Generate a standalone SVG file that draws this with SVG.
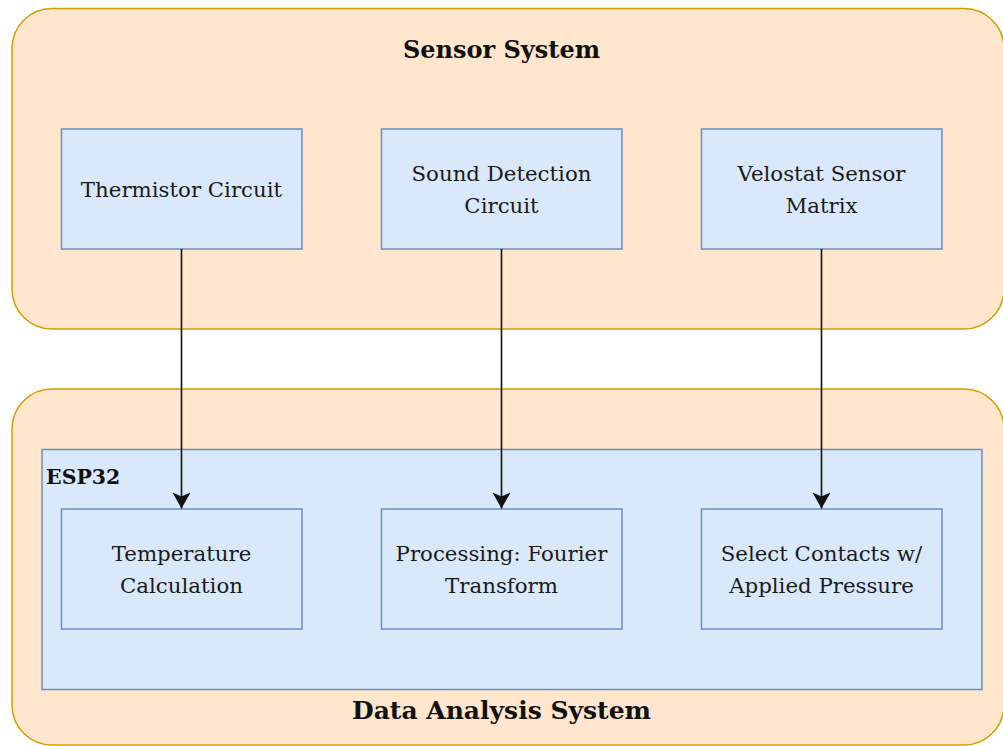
<svg xmlns="http://www.w3.org/2000/svg" width="1003" height="746" viewBox="0 0 1003 746">
<style>
.cont{fill:#ffe6cc;stroke:#d79b00;stroke-width:1.5}
.box{fill:#dae8fc;stroke:#6c8ebf;stroke-width:1.5}
.t{font-family:"DejaVu Serif","Liberation Serif",serif;font-size:21.3px;fill:#1a1a1a;text-anchor:middle}
.title{font-family:"DejaVu Serif","Liberation Serif",serif;font-weight:bold;fill:#111;text-anchor:middle}
.edge{stroke:#111;stroke-width:1.6;fill:none}
</style>
<defs>
<marker id="arr" markerUnits="userSpaceOnUse" markerWidth="20" markerHeight="20" refX="16" refY="9" orient="auto">
<path d="M0,0 L16,9 L0,18 L4,9 Z" fill="#111"/>
</marker>
</defs>
<g id="sensor-system">
<rect class="cont" x="12" y="8.5" width="992" height="320.5" rx="40" ry="40"/>
<text class="title" x="501.5" y="58" font-size="24">Sensor System</text>
</g>
<g id="data-analysis-system">
<rect class="cont" x="12" y="389" width="992" height="356" rx="40" ry="40"/>
<text class="title" x="501.5" y="719" font-size="25">Data Analysis System</text>
</g>
<g id="esp32">
<rect class="box" x="42" y="449.5" width="940" height="240"/>
<text class="title" x="46" y="484" font-size="20.5" style="text-anchor:start">ESP32</text>
</g>
<g id="thermistor">
<rect class="box" x="61.5" y="129" width="240.5" height="120"/>
<text class="t" x="181.5" y="197">Thermistor Circuit</text>
</g>
<g id="sound">
<rect class="box" x="381.5" y="129" width="240.5" height="120"/>
<text class="t" x="501.5" y="181">Sound Detection</text>
<text class="t" x="501.5" y="213">Circuit</text>
</g>
<g id="velostat">
<rect class="box" x="701.5" y="129" width="240.5" height="120"/>
<text class="t" x="821.5" y="181">Velostat Sensor</text>
<text class="t" x="821.5" y="213">Matrix</text>
</g>
<g id="temperature">
<rect class="box" x="61.5" y="509" width="240.5" height="120"/>
<text class="t" x="181.5" y="561">Temperature</text>
<text class="t" x="181.5" y="593">Calculation</text>
</g>
<g id="fourier">
<rect class="box" x="381.5" y="509" width="240.5" height="120"/>
<text class="t" x="501.5" y="561">Processing: Fourier</text>
<text class="t" x="501.5" y="593">Transform</text>
</g>
<g id="contacts">
<rect class="box" x="701.5" y="509" width="240.5" height="120"/>
<text class="t" x="821.5" y="561">Select Contacts w/</text>
<text class="t" x="821.5" y="593">Applied Pressure</text>
</g>
<g id="connectors">
<line class="edge" x1="181.5" y1="249" x2="181.5" y2="508.5" marker-end="url(#arr)"/>
<line class="edge" x1="501.5" y1="249" x2="501.5" y2="508.5" marker-end="url(#arr)"/>
<line class="edge" x1="821.5" y1="249" x2="821.5" y2="508.5" marker-end="url(#arr)"/>
</g>
</svg>
